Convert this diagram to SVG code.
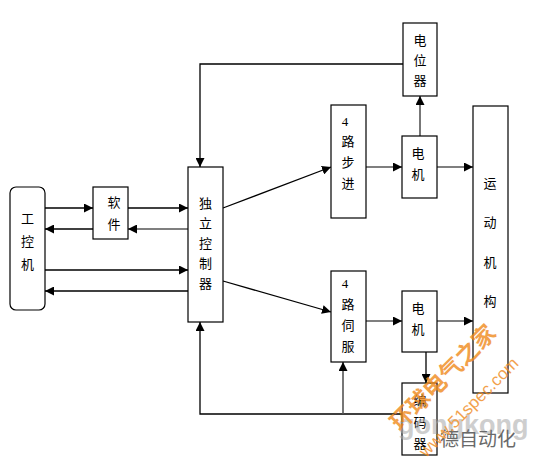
<svg xmlns="http://www.w3.org/2000/svg" width="535" height="467" viewBox="0 0 535 467">
<style>
.box{fill:#fff;stroke:#000;stroke-width:1.2}
.t{font-family:"Liberation Sans","Noto Sans CJK SC",sans-serif;font-size:13px;fill:#000;text-anchor:middle}
.c{fill:none;stroke:#000;stroke-width:1.3}
.g{fill:none;stroke:#555;stroke-width:1.6}
</style>
<defs>
<marker id="a" viewBox="0 0 10 10" refX="10" refY="5" markerWidth="9" markerHeight="9" markerUnits="userSpaceOnUse" orient="auto">
<path d="M0,0 L10,5 L0,10 z" fill="#000"/>
</marker>
</defs>
<rect width="535" height="467" fill="#fff"/>
<g id="connectors">
<line class="c" x1="45" y1="208" x2="93" y2="208" marker-end="url(#a)"/>
<line class="c" x1="93" y1="229" x2="45" y2="229" marker-end="url(#a)"/>
<line class="c" x1="128" y1="208" x2="188" y2="208" marker-end="url(#a)"/>
<line class="g" x1="188" y1="229" x2="128" y2="229" marker-end="url(#a)"/>
<line class="c" x1="45" y1="270" x2="188" y2="270" marker-end="url(#a)"/>
<line class="c" x1="188" y1="291" x2="45" y2="291" marker-end="url(#a)"/>
<polyline class="c" points="403,64 200,64 200,167" marker-end="url(#a)"/>
<line class="c" x1="223" y1="208" x2="331" y2="167" marker-end="url(#a)"/>
<line class="c" x1="223" y1="281" x2="331" y2="312" marker-end="url(#a)"/>
<line class="g" x1="366" y1="167" x2="402" y2="167" marker-end="url(#a)"/>
<line class="g" x1="420" y1="136" x2="420" y2="96" marker-end="url(#a)"/>
<line class="g" x1="437" y1="167" x2="473" y2="167" marker-end="url(#a)"/>
<line class="g" x1="366" y1="321" x2="402" y2="321" marker-end="url(#a)"/>
<line class="g" x1="437" y1="321" x2="473" y2="321" marker-end="url(#a)"/>
<line class="c" x1="426" y1="352" x2="426" y2="383" marker-end="url(#a)"/>
<polyline class="c" points="402,414 200,414 200,322" marker-end="url(#a)"/>
<line class="g" x1="343" y1="414" x2="343" y2="362" marker-end="url(#a)"/>
</g>
<g id="gongkongji">
<rect class="box" x="10" y="187" width="35" height="123" rx="6"/>
<text class="t" x="27.5" y="223">工</text>
<text class="t" x="27.5" y="246">控</text>
<text class="t" x="27.5" y="269">机</text>
</g>
<g id="ruanjian">
<rect class="box" x="93" y="187" width="35" height="52"/>
<text class="t" x="114" y="207">软</text>
<text class="t" x="114" y="229">件</text>
</g>
<g id="controller">
<rect class="box" x="188" y="167" width="35" height="155"/>
<text class="t" x="205.5" y="208">独</text>
<text class="t" x="205.5" y="228">立</text>
<text class="t" x="205.5" y="248">控</text>
<text class="t" x="205.5" y="268">制</text>
<text class="t" x="205.5" y="288">器</text>
</g>
<g id="dianweiqi">
<rect class="box" x="403" y="23" width="34" height="73"/>
<text class="t" x="420" y="45">电</text>
<text class="t" x="420" y="65">位</text>
<text class="t" x="420" y="85">器</text>
</g>
<g id="stepper">
<rect class="box" x="331" y="105" width="35" height="113"/>
<text class="t" x="345" y="126" style="font-family:'Liberation Serif',serif">4</text>
<text class="t" x="348" y="146">路</text>
<text class="t" x="348" y="167">步</text>
<text class="t" x="348" y="188">进</text>
</g>
<g id="motor1">
<rect class="box" x="402" y="136" width="35" height="62"/>
<text class="t" x="418" y="158">电</text>
<text class="t" x="418" y="179">机</text>
</g>
<g id="yundongjigou">
<rect class="box" x="473" y="106" width="35" height="287"/>
<text class="t" x="490" y="188">运</text>
<text class="t" x="490" y="227">动</text>
<text class="t" x="490" y="267">机</text>
<text class="t" x="490" y="306">构</text>
</g>
<g id="servo">
<rect class="box" x="331" y="271" width="35" height="91"/>
<text class="t" x="345" y="288" style="font-family:'Liberation Serif',serif">4</text>
<text class="t" x="348" y="309">路</text>
<text class="t" x="348" y="330">伺</text>
<text class="t" x="348" y="351">服</text>
</g>
<g id="motor2">
<rect class="box" x="402" y="291" width="35" height="61"/>
<text class="t" x="418" y="313">电</text>
<text class="t" x="418" y="334">机</text>
</g>
<g id="encoder">
<rect class="box" x="402" y="383" width="35" height="72"/>
<text class="t" x="420" y="405">编</text>
<text class="t" x="420" y="427">码</text>
<text class="t" x="420" y="448">器</text>
</g>
<g id="watermark" opacity="0.8">
<text x="398" y="434" style="font-family:'Liberation Sans',sans-serif;font-size:27px;font-weight:bold;fill:#aaa;opacity:0.7">gongkong</text>
<text x="440" y="446" style="font-family:'Noto Sans CJK SC',sans-serif;font-size:19px;fill:#444">德自动化</text>
<text x="400" y="432" transform="rotate(-45 400 432)" style="font-family:'Noto Sans CJK SC',sans-serif;font-size:23px;font-weight:bold;fill:#f08a1c">环球电气之家</text>
<text x="426" y="458" transform="rotate(-45 426 458)" style="font-family:'Liberation Sans',sans-serif;font-size:17px;fill:#f08a1c">www.51spec.com</text>
</g>
</svg>
